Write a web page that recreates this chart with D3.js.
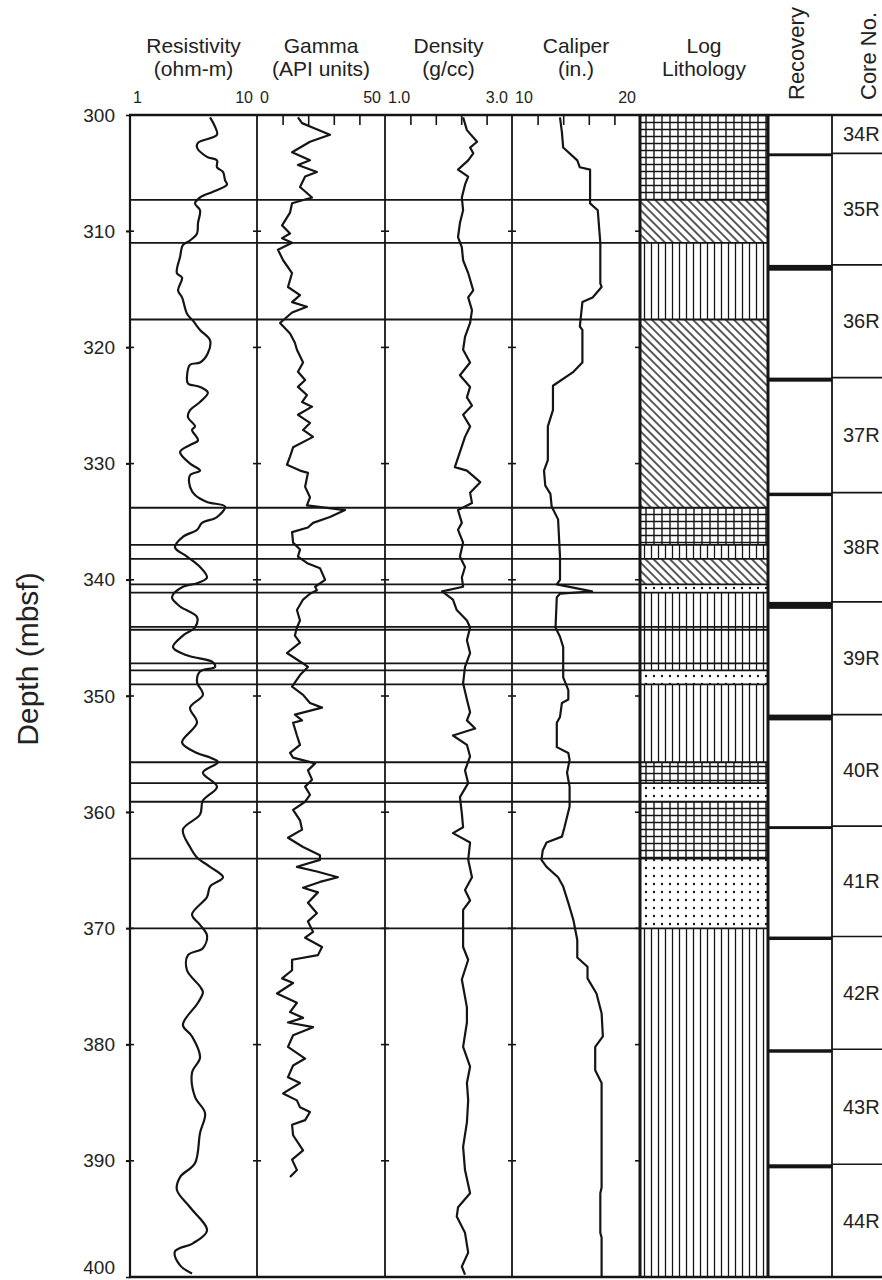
<!DOCTYPE html>
<html>
<head>
<meta charset="utf-8">
<script src="https://cdn.jsdelivr.net/npm/d3@7"></script>
<style>
  body { margin: 0; background: #fff; }
  svg text { font-family: "Liberation Sans", Arial, Helvetica, sans-serif; fill: #222; }
</style>
</head>
<body>
<svg id="chart" width="882" height="1280"></svg>
<script>
// depth (mbsf), value pairs
const resistivity = [[300.2,4.27],[301.0,4.67],[301.7,4.84],[302.4,3.43],[302.8,3.37],[303.6,4.04],[303.9,4.84],[304.5,4.84],[304.9,5.40],[305.6,5.60],[306.0,5.80],[306.6,4.50],[307.1,3.56],[307.6,3.25],[308.2,3.56],[309.3,3.43],[310.2,3.37],[310.8,2.97],[311.2,2.61],[312.2,2.48],[313.6,2.34],[314.0,2.57],[315.1,2.39],[315.7,2.57],[317.1,2.81],[317.7,3.13],[318.5,3.56],[319.4,4.27],[320.5,4.10],[321.3,3.56],[321.5,2.97],[322.5,2.81],[323.1,2.86],[323.4,3.56],[323.9,4.10],[324.7,3.56],[325.4,2.97],[326.0,2.86],[326.8,3.25],[327.1,3.08],[328.0,3.43],[328.4,2.97],[329.0,2.48],[330.0,2.97],[330.6,3.56],[331.0,2.97],[332.0,2.97],[332.7,3.25],[333.3,4.04],[333.7,5.60],[334.6,4.84],[335.1,3.69],[335.7,3.37],[336.3,2.61],[337.2,2.26],[338.0,2.81],[338.9,3.56],[339.8,4.04],[340.3,3.37],[340.6,2.61],[341.5,2.14],[342.3,2.48],[343.2,3.37],[344.1,3.25],[344.8,2.61],[345.8,2.18],[346.5,2.81],[347.1,4.50],[347.5,4.67],[347.9,3.56],[348.8,3.37],[349.9,3.75],[351.0,2.97],[352.3,3.37],[354.0,2.57],[354.9,3.37],[355.3,4.27],[355.7,4.93],[356.6,3.75],[357.8,4.84],[359.0,3.75],[360.2,3.56],[361.5,2.61],[363.0,2.97],[363.9,3.37],[364.7,4.27],[365.6,5.40],[366.4,4.27],[367.3,4.04],[368.8,3.08],[369.7,3.56],[370.6,4.04],[371.7,3.75],[372.3,2.86],[373.6,2.81],[375.0,3.56],[375.5,3.75],[376.4,3.43],[378.3,2.61],[379.3,3.08],[381.1,3.56],[382.4,3.08],[384.5,3.25],[385.9,3.90],[387.6,3.56],[390.2,3.25],[391.4,2.48],[392.5,2.34],[394.0,2.97],[396.0,4.04],[397.1,3.13],[397.8,2.26],[399.0,2.48],[399.7,3.08]];

const gamma = [[300.2,16],[300.7,17.6],[301.1,21.9],[301.7,28.5],[302.3,20.7],[303.2,13.7],[303.9,20.7],[304.3,16.0],[304.9,23.4],[305.3,18.8],[306.2,16.8],[307.1,21.5],[307.6,13.7],[308.4,12.9],[309.5,9.8],[310.2,12.9],[310.6,9.8],[311.0,13.7],[311.6,8.2],[312.5,10.2],[313.6,13.7],[314.8,12.1],[315.5,16.8],[316.1,13.7],[316.5,19.5],[317.0,13.7],[317.9,9.0],[318.8,12.9],[319.6,14.8],[320.2,15.6],[321.3,18.0],[322.1,16.0],[322.8,18.8],[323.4,16.0],[324.1,19.5],[324.7,17.6],[325.1,21.5],[325.8,16.0],[326.5,20.7],[327.1,18.0],[327.7,21.9],[328.6,14.1],[329.4,12.9],[330.1,11.7],[330.6,16.8],[330.8,19.9],[332.0,18.8],[332.9,20.7],[333.6,19.5],[334.0,34.4],[334.6,28.5],[335.1,21.9],[335.5,19.9],[335.9,13.7],[336.8,14.1],[337.4,16.8],[338.0,16.0],[338.6,19.9],[339.0,24.6],[340.0,26.6],[340.6,22.7],[340.9,23.4],[341.2,20.7],[341.7,18.0],[342.6,15.6],[343.5,16.8],[344.1,15.6],[344.8,14.8],[345.4,16.8],[346.3,11.7],[347.2,18.0],[347.5,19.9],[348.2,16.8],[349.2,13.7],[349.9,18.0],[350.6,20.7],[351.0,25.4],[351.6,14.8],[352.1,17.6],[352.3,14.1],[353.4,15.6],[354.2,16.8],[354.9,12.9],[355.3,14.1],[355.8,22.7],[356.4,19.9],[357.2,21.5],[357.8,18.8],[358.5,20.7],[359.1,18.8],[359.8,14.1],[360.7,16.8],[361.5,17.6],[362.2,12.1],[363.0,18.0],[363.7,24.6],[364.1,24.6],[364.7,15.6],[365.1,23.4],[365.6,31.6],[366.0,24.6],[366.5,18.0],[366.9,23.8],[367.8,19.9],[368.7,23.4],[369.4,19.9],[370.3,21.9],[370.8,18.8],[371.6,25.4],[372.3,23.8],[372.7,13.7],[373.6,13.7],[374.3,9.8],[374.7,14.1],[375.6,7.8],[376.4,15.6],[377.2,12.9],[377.7,18.0],[378.1,12.1],[378.5,21.9],[379.2,14.1],[380.2,12.1],[381.2,18.8],[381.8,14.1],[382.8,12.1],[383.3,16.8],[384.2,10.2],[384.8,15.6],[385.4,16.8],[385.8,20.7],[386.5,18.8],[386.9,13.7],[387.8,14.1],[389.1,18.0],[389.9,13.7],[390.8,15.6],[391.4,12.9]];

const density = [[300.2,2.23],[301.3,2.29],[302.3,2.45],[302.8,2.34],[303.3,2.39],[303.9,2.31],[304.7,2.15],[305.3,2.31],[306.0,2.26],[307.1,2.21],[308.2,2.23],[309.3,2.18],[310.5,2.15],[311.4,2.21],[312.5,2.23],[313.6,2.31],[315.1,2.39],[315.7,2.31],[316.8,2.37],[317.9,2.34],[319.1,2.26],[320.2,2.23],[321.3,2.34],[322.4,2.18],[323.4,2.34],[324.3,2.29],[325.0,2.37],[325.8,2.23],[326.8,2.34],[327.7,2.26],[330.3,2.10],[330.6,2.29],[331.6,2.50],[332.5,2.34],[333.4,2.37],[334.0,2.15],[335.1,2.21],[335.7,2.15],[336.8,2.23],[338.0,2.18],[338.9,2.26],[339.8,2.21],[340.6,2.23],[341.0,1.90],[341.7,2.07],[342.6,2.13],[343.5,2.29],[344.1,2.34],[345.2,2.29],[346.3,2.34],[347.5,2.26],[348.9,2.23],[350.3,2.29],[351.4,2.34],[352.1,2.29],[352.8,2.42],[353.4,2.07],[354.2,2.29],[355.2,2.34],[356.4,2.26],[357.5,2.31],[358.7,2.18],[360.1,2.21],[361.3,2.23],[361.8,2.07],[362.6,2.34],[364.1,2.31],[365.6,2.37],[366.7,2.26],[367.6,2.34],[368.4,2.23],[369.9,2.23],[371.6,2.23],[372.7,2.31],[374.4,2.21],[376.8,2.29],[378.1,2.29],[380.2,2.23],[381.9,2.34],[383.3,2.29],[384.8,2.31],[386.7,2.29],[388.8,2.23],[390.8,2.26],[392.8,2.34],[394.0,2.15],[394.8,2.13],[396.2,2.26],[397.9,2.31],[399.1,2.21],[399.8,2.26]];

const caliper = [[300.2,13.75],[301.5,13.9],[302.8,14.0],[303.9,15.1],[304.5,15.3],[304.7,16.1],[307.6,16.1],[308.2,16.7],[311.0,16.9],[314.5,16.9],[314.8,17.0],[315.7,16.3],[316.1,15.5],[318.2,15.3],[318.5,15.5],[321.3,15.5],[322.1,14.8],[323.3,13.2],[325.4,13.2],[326.8,12.8],[329.7,12.8],[330.6,12.5],[331.9,12.6],[332.6,13.0],[333.7,13.1],[334.8,13.6],[338.0,13.75],[340.0,13.75],[340.4,13.5],[341.0,16.25],[341.2,13.75],[341.5,13.5],[344.1,13.4],[344.9,13.75],[345.8,14.0],[348.4,14.0],[349.5,14.4],[350.3,14.4],[350.6,13.9],[351.8,13.75],[352.3,13.5],[354.4,13.5],[354.9,14.4],[355.5,14.5],[356.6,14.3],[357.8,14.5],[359.5,14.5],[361.3,14.1],[362.1,13.9],[362.6,12.7],[363.3,12.4],[364.1,12.3],[364.7,12.7],[365.6,13.6],[366.4,14.0],[367.8,14.4],[369.3,14.8],[371.0,15.1],[372.5,15.1],[373.3,15.9],[374.3,15.9],[375.6,16.6],[377.3,17.0],[379.3,17.1],[380.2,16.5],[382.2,16.5],[383.3,17.0],[392.3,17.0],[392.8,16.9],[396.2,16.9],[396.6,17.0],[400,17.0]];

// lithology units (top depth + pattern), base of last unit = 400
const lithTops = [300, 307.3, 311.0, 317.6, 333.8, 337.0, 338.2, 340.4, 341.1, 344.05, 344.3, 347.2, 347.8, 349.0, 355.7, 357.5, 359.1, 364.0, 370.0];
const lithTypes = ['grid','diag','vert','diag','grid','vert','diag','dots','vert','vert','vert','vert','dots','vert','grid','dots','grid','dots','vert'];

// cores
const coreNames = ['34R','35R','36R','37R','38R','39R','40R','41R','42R','43R','44R'];
const coreTops = [300, 303.3, 312.9, 322.6, 332.5, 341.9, 351.6, 361.2, 370.7, 380.4, 390.3];
const coreRecovery = [0, 0.25, 0.5, 0.35, 0.3, 0.6, 0.5, 0.25, 0.3, 0.3, 0.35];

const depthTicks = [300, 310, 320, 330, 340, 350, 360, 370, 380, 390, 400];

const svg = d3.select('#chart');
const yTop = 115, yBot = 1277;
const y = d3.scaleLinear().domain([300, 400]).range([yTop, yBot]);
const ink = '#151515';

const tracks = [
  { title: 'Resistivity', unit: '(ohm-m)', x0: 130, x1: 257, scale: d3.scaleLog().domain([1, 10]), lo: '1', hi: '10', ticks: [], data: resistivity, curve: d3.curveCatmullRom },
  { title: 'Gamma', unit: '(API units)', x0: 257, x1: 385, scale: d3.scaleLinear().domain([0, 50]), lo: '0', hi: '50', ticks: [10, 20, 30, 40], data: gamma, curve: d3.curveLinear },
  { title: 'Density', unit: '(g/cc)', x0: 385, x1: 512, scale: d3.scaleLinear().domain([1, 3]), lo: '1.0', hi: '3.0', ticks: [1.4, 1.8, 2.2, 2.6], data: density, curve: d3.curveLinear },
  { title: 'Caliper', unit: '(in.)', x0: 512, x1: 640, scale: d3.scaleLinear().domain([10, 20]), lo: '10', hi: '20', ticks: [12, 14, 16, 18], data: caliper, curve: d3.curveLinear }
];
tracks.forEach(t => t.scale.range([t.x0, t.x1]));

const lithX0 = 640, lithX1 = 768, recX1 = 832, coreX1 = 882;

// patterns
const defs = svg.append('defs');
const pGrid = defs.append('pattern').attr('id', 'grid').attr('patternUnits', 'userSpaceOnUse')
  .attr('width', 8).attr('height', 7).attr('x', lithX0 + 2);
pGrid.append('path').attr('d', 'M4,0V7M0,3.5H8').attr('stroke', ink).attr('stroke-width', 1.4);
const pDiag = defs.append('pattern').attr('id', 'diag').attr('patternUnits', 'userSpaceOnUse')
  .attr('width', 5.8).attr('height', 10).attr('patternTransform', 'rotate(-45)');
pDiag.append('path').attr('d', 'M2.9,0V10').attr('stroke', ink).attr('stroke-width', 1.4);
const pVert = defs.append('pattern').attr('id', 'vert').attr('patternUnits', 'userSpaceOnUse')
  .attr('width', 7).attr('height', 10).attr('x', lithX0 + 1);
pVert.append('path').attr('d', 'M3.5,0V10').attr('stroke', ink).attr('stroke-width', 1.3);
const pDots = defs.append('pattern').attr('id', 'dots').attr('patternUnits', 'userSpaceOnUse')
  .attr('width', 8).attr('height', 8).attr('x', lithX0 + 2);
pDots.append('circle').attr('cx', 4).attr('cy', 4).attr('r', 1.2).attr('fill', ink);

// lithology column
const lithBases = lithTops.slice(1).concat([400]);
svg.append('g').selectAll('rect')
  .data(lithTops.map((d, i) => ({ top: d, base: lithBases[i], type: lithTypes[i] })))
  .enter().append('rect')
  .attr('x', lithX0).attr('width', lithX1 - lithX0)
  .attr('y', d => y(d.top)).attr('height', d => y(d.base) - y(d.top))
  .attr('fill', d => `url(#${d.type})`);

// log curves
tracks.forEach(t => {
  const line = d3.line().x(d => t.scale(d[1])).y(d => y(d[0])).curve(t.curve);
  svg.append('path').datum(t.data)
    .attr('d', line).attr('fill', 'none')
    .attr('stroke', ink).attr('stroke-width', 2.2).attr('stroke-linejoin', 'round');
});

// unit boundaries across logs and lithology
svg.append('g').selectAll('line')
  .data(lithTops.slice(1)).enter().append('line')
  .attr('x1', 130).attr('x2', lithX1)
  .attr('y1', d => y(d)).attr('y2', d => y(d))
  .attr('stroke', ink).attr('stroke-width', 1.8);

// recovery bars and core boundaries
const coreBases = coreTops.slice(1).concat([400]);
svg.append('g').selectAll('rect')
  .data(coreTops.map((d, i) => ({ top: d, rec: coreRecovery[i] })))
  .enter().append('rect')
  .attr('x', lithX1).attr('width', recX1 - lithX1)
  .attr('y', d => y(d.top)).attr('height', d => y(d.top + d.rec) - y(d.top))
  .attr('fill', ink);
svg.append('g').selectAll('line')
  .data(coreTops.slice(1)).enter().append('line')
  .attr('x1', recX1).attr('x2', coreX1)
  .attr('y1', d => y(d)).attr('y2', d => y(d))
  .attr('stroke', ink).attr('stroke-width', 1.6);
svg.append('g').selectAll('text')
  .data(coreNames).enter().append('text')
  .attr('x', 843)
  .attr('y', (d, i) => (y(coreTops[i]) + y(coreBases[i])) / 2 + 7)
  .style('font-size', '20px')
  .text(d => d);

// vertical separators
const seps = [
  { x: 130, w: 2.2 }, { x: 257, w: 1.8 }, { x: 385, w: 1.8 }, { x: 512, w: 1.8 },
  { x: lithX0, w: 3 }, { x: lithX1, w: 3 }, { x: recX1, w: 1.8 }
];
svg.append('g').selectAll('line').data(seps).enter().append('line')
  .attr('x1', d => d.x).attr('x2', d => d.x).attr('y1', yTop).attr('y2', yBot)
  .attr('stroke', ink).attr('stroke-width', d => d.w);

// frame top / bottom
[yTop, yBot].forEach(v => {
  svg.append('line').attr('x1', 129).attr('x2', coreX1).attr('y1', v).attr('y2', v)
    .attr('stroke', ink).attr('stroke-width', 2.6);
});

// depth axis
const yAxis = svg.append('g').attr('transform', 'translate(130,0)')
  .call(d3.axisLeft(y).tickValues(depthTicks).tickSize(4).tickPadding(11).tickFormat(d3.format('d')));
yAxis.select('.domain').remove();
yAxis.selectAll('line').attr('stroke', ink).attr('stroke-width', 1.6);
yAxis.selectAll('text').style('font-size', '19px').attr('fill', '#222')
  .attr('dy', d => d === 400 ? '-0.2em' : '0.32em');

// small depth ticks on each separator
[130, 257, 385, 512].forEach(x => {
  svg.append('g').selectAll('line').data(depthTicks.slice(1, -1)).enter().append('line')
    .attr('x1', x - 4).attr('x2', x + 4).attr('y1', d => y(d)).attr('y2', d => y(d))
    .attr('stroke', ink).attr('stroke-width', 1.6);
});
svg.append('g').selectAll('line').data(depthTicks.slice(1, -1)).enter().append('line')
  .attr('x1', lithX0 - 5).attr('x2', lithX0).attr('y1', d => y(d)).attr('y2', d => y(d))
  .attr('stroke', ink).attr('stroke-width', 1.6);

// track headers and top ticks
tracks.forEach(t => {
  const cx = (t.x0 + t.x1) / 2;
  svg.append('text').attr('x', cx).attr('y', 53).attr('text-anchor', 'middle').style('font-size', '21px').text(t.title);
  svg.append('text').attr('x', cx).attr('y', 76).attr('text-anchor', 'middle').style('font-size', '21px').text(t.unit);
  svg.append('text').attr('x', t.x0 + 3).attr('y', 103).style('font-size', '16px').text(t.lo);
  svg.append('text').attr('x', t.x1 - 4).attr('y', 103).attr('text-anchor', 'end').style('font-size', '16px').text(t.hi);
  const ax = svg.append('g').attr('transform', `translate(0,${yTop})`)
    .call(d3.axisBottom(t.scale).tickValues(t.ticks).tickSize(10).tickFormat(''));
  ax.select('.domain').remove();
  ax.selectAll('line').attr('stroke', ink).attr('stroke-width', 1.6);
});

svg.append('text').attr('x', 704).attr('y', 53).attr('text-anchor', 'middle').style('font-size', '21px').text('Log');
svg.append('text').attr('x', 704).attr('y', 76).attr('text-anchor', 'middle').style('font-size', '21px').text('Lithology');

svg.append('text').attr('transform', 'translate(804,100) rotate(-90)')
  .style('font-size', '22px').text('Recovery');
svg.append('text').attr('transform', 'translate(876,100) rotate(-90)')
  .style('font-size', '22px').text('Core No.');

svg.append('text').attr('transform', 'translate(38,659) rotate(-90)')
  .attr('text-anchor', 'middle').style('font-size', '30px').text('Depth (mbsf)');
</script>
</body>
</html>
